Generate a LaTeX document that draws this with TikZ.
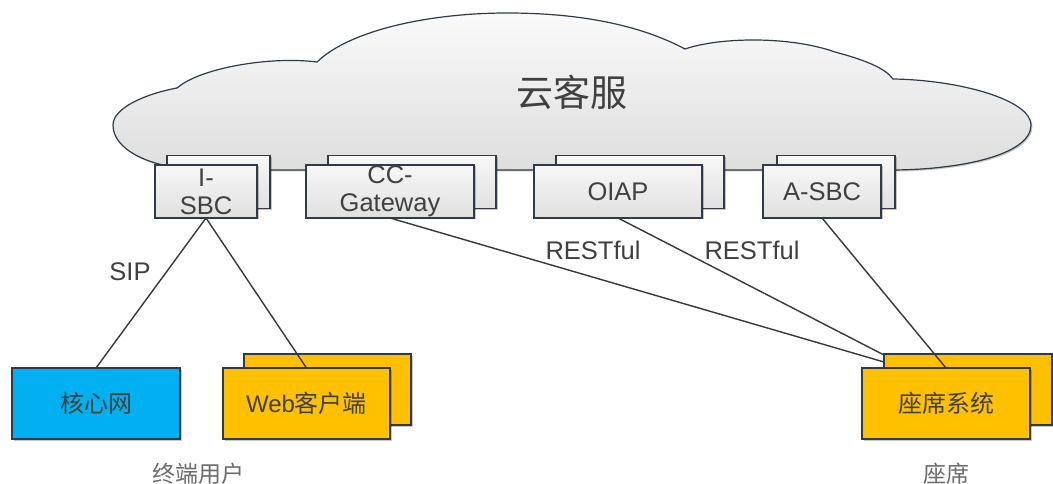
\documentclass[tikz,border=0pt]{standalone}
\usepackage{fontspec}
\setmainfont{Liberation Sans}
\newfontfamily\cjk{Noto Sans CJK SC}
\usetikzlibrary{shadows}
\definecolor{edgeC}{HTML}{2F3B4A}
\definecolor{textC}{HTML}{404040}
\definecolor{goldC}{HTML}{FFC000}
\definecolor{blueC}{HTML}{00B0F0}
\tikzset{
  softshadow/.style={drop shadow={shadow xshift=1.5pt,shadow yshift=-1.5pt,opacity=.22,fill=black}},
  boxbase/.style={draw=edgeC,line width=1.4pt,inner sep=0pt,outer sep=0pt,text=textC,align=center,font=\fontsize{25.5}{28}\selectfont,softshadow},
  greybox/.style={boxbase,top color=gray!6,bottom color=gray!24,shading angle=0,minimum height=53pt},
  goldbox/.style={boxbase,fill=goldC,minimum width=167pt,minimum height=71pt,font=\fontsize{24}{27}\selectfont},
  bluebox/.style={boxbase,fill=blueC,minimum width=168pt,minimum height=71pt,font=\fontsize{24}{27}\selectfont},
  wire/.style={draw=black!78,line width=1.4pt},
  lbl/.style={text=textC,inner sep=0pt,font=\fontsize{25.5}{28}\selectfont},
  cjklbl/.style={text=gray!85!black,inner sep=0pt,font=\cjk\fontsize{23}{27}\selectfont},
}
\begin{document}
\begin{tikzpicture}[x=1pt,y=-1pt]
\useasboundingbox[fill=white] (0,0) rectangle (1053,484);
% cloud
\path[draw=edgeC,line width=1.2pt,top color=gray!4,bottom color=gray!26,softshadow]
  (300,170) -- (200,170)
  .. controls (150,168) and (113,150) .. (113,125)
  .. controls (113,108) and (145,94) .. (177,88)
  .. controls (200,68) and (270,56) .. (317,62)
  .. controls (350,30) and (430,13) .. (507,13)
  .. controls (580,13) and (640,25) .. (685,49)
  .. controls (720,37) and (790,36) .. (835,52)
  .. controls (865,60) and (885,68) .. (893,79)
  .. controls (960,80) and (1031,100) .. (1031,125)
  .. controls (1031,155) and (960,170) .. (890,170)
  -- cycle;
\node[text=textC,inner sep=0pt,font=\cjk\fontsize{37}{40}\selectfont] (cloudlabel) at (572,92) {云客服};
% back boxes
\node[greybox,minimum width=103pt] (isbcb) at (218.5,182) {};
\node[greybox,minimum width=168pt] (ccb) at (412,182) {};
\node[greybox,minimum width=168pt] (oiapb) at (640,182) {};
\node[greybox,minimum width=118pt] (asbcb) at (836,182) {};
% front boxes
\node[greybox,minimum width=102pt] (isbc) at (206,191.5) {I-\\SBC};
\node[greybox,minimum width=168pt] (cc) at (390,191.5) {CC-\\Gateway};
\node[greybox,minimum width=168pt] (oiap) at (618,191.5) {OIAP};
\node[greybox,minimum width=118pt] (asbc) at (822,191.5) {A-SBC};
% lower boxes
\node[bluebox] (core) at (96,403.5) {\cjk 核心网};
\node[goldbox] (webb) at (327.5,389.5) {};
\node[goldbox] (web) at (306.5,403.5) {Web{\cjk 客户端}};
\node[goldbox,minimum width=168pt] (seatb) at (968,389.5) {};
\node[goldbox,minimum width=168pt] (seat) at (946,403.5) {\cjk 座席系统};
% free ends on the left edge of the back seat box
\coordinate (seatA) at (884,355);
\coordinate (seatB) at (884,362);
% connectors
\draw[wire] (isbc.south) -- (core.north);
\draw[wire] (isbc.south) -- (web.north);
\draw[wire] (cc.south) -- (seatB);
\draw[wire] (oiap.south) -- (seatA);
\draw[wire] (asbc.south) -- (seat.north);
% labels
\node[lbl] (sip) at (130,272) {SIP};
\node[lbl] (rest1) at (593,250) {RESTful};
\node[lbl] (rest2) at (752,250) {RESTful};
\node[cjklbl] (users) at (198,474) {终端用户};
\node[cjklbl] (agents) at (946,474) {座席};
\end{tikzpicture}
\end{document}
